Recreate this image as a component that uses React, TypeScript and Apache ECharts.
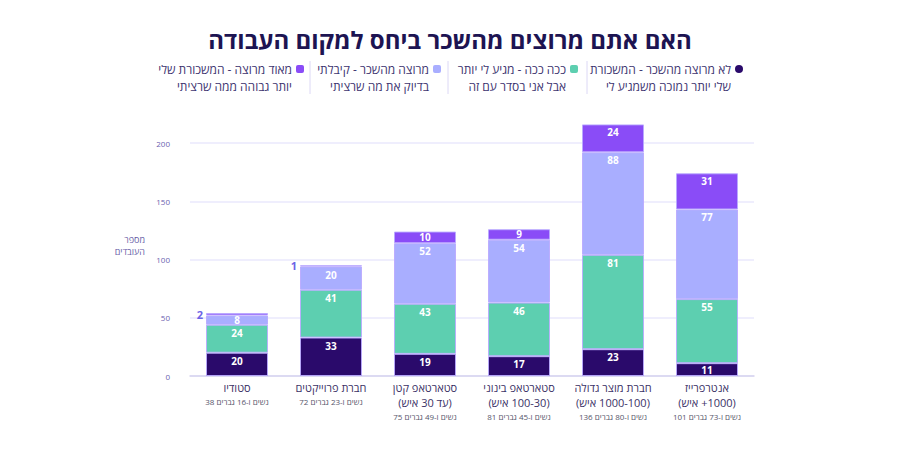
import React, { useEffect, useRef } from "react";
import * as echarts from "echarts";

const categories = ["סטודיו", "חברת פרוייקטים", "סטארטאפ קטן", "סטארטאפ בינוני", "חברת מוצר גדולה", "אנטרפרייז"];
const sizeNotes = ["", "", "(עד 30 איש)", "(100-30 איש)", "(1000-100 איש)", "(1000+ איש)"];
const headcounts = [
  "38 נשים ו-16 גברים",
  "72 נשים ו-23 גברים",
  "75 נשים ו-49 גברים",
  "81 נשים ו-45 גברים",
  "136 נשים ו-80 גברים",
  "101 נשים ו-73 גברים",
];
const notSatisfied = [20, 33, 19, 17, 23, 11];
const soSo = [24, 41, 43, 46, 81, 55];
const satisfied = [8, 20, 52, 54, 88, 77];
const verySatisfied = [2, 1, 10, 9, 24, 31];
const yTicks = [0, 50, 100, 150, 200];

const seriesNames = [
  "לא מרוצה מהשכר - המשכורת\nשלי יותר נמוכה משמגיע לי",
  "ככה ככה - מגיע לי יותר\nאבל אני בסדר עם זה",
  "מרוצה מהשכר - קיבלתי\nבדיוק את מה שרציתי",
  "מאוד מרוצה - המשכורת שלי\nיותר גבוהה ממה שרציתי",
];
const colors = ["#2a0a6b", "#5dcfb0", "#a9aeff", "#8a4cf7"];
const title = "האם אתם מרוצים מהשכר ביחס למקום העבודה";
const yName = "מספר\nהעובדים";

const FONT = "'Open Sans', 'Liberation Sans', 'DejaVu Sans', sans-serif";
const RLE = "\u202B";
const LRE = "\u202A";
const PDF = "\u202C";

export default function App() {
  const ref = useRef<HTMLDivElement>(null);
  useEffect(() => {
    if (!ref.current) return;
    const chart = echarts.init(ref.current, null, { renderer: "svg" });
    const allSeries = [notSatisfied, soSo, satisfied, verySatisfied];
    const series = allSeries.map((vals, si) => ({
      name: seriesNames[si],
      type: "bar",
      stack: "total",
      barWidth: 62,
      itemStyle: { color: colors[si], borderColor: "rgba(185,170,255,0.9)", borderWidth: 1 },
      label: {
        show: true,
        position: "insideTop",
        distance: 3,
        color: "#ffffff",
        fontSize: 10,
        fontWeight: "bold",
        fontFamily: FONT,
      },
      data: vals.map((v) =>
        v < 5
          ? {
              value: v,
              label: { position: "left", distance: 3, color: "#6c63e6", fontSize: 11, fontWeight: "bold" },
            }
          : v <= 11
          ? { value: v, label: { position: "inside" } }
          : v
      ),
    }));

    const legendRight = [731, 566, 429, 292];
    const sepX = [587, 448, 310];
    const graphic: any[] = [];
    legendRight.forEach((xr, i) => {
      graphic.push({
        type: "rect",
        shape: { x: xr + 4, y: 65, width: 8, height: 8, r: i === 0 ? 4 : 2 },
        style: { fill: colors[i] },
      });
      graphic.push({
        type: "text",
        x: xr,
        y: 61,
        style: {
          text: seriesNames[i],
          textAlign: "right",
          textVerticalAlign: "top",
          fontSize: 12,
          lineHeight: 17,
          fill: "#3d3470",
          fontFamily: FONT,
        },
      });
    });
    sepX.forEach((x) => {
      graphic.push({
        type: "line",
        shape: { x1: x, y1: 61, x2: x, y2: 94 },
        style: { stroke: "#dcd8f5", lineWidth: 1 },
      });
    });
    graphic.push({
      type: "text",
      x: 145,
      y: 233,
      style: {
        text: yName,
        textAlign: "right",
        textVerticalAlign: "top",
        fontSize: 9,
        lineHeight: 12,
        fill: "#6a5fa8",
        fontFamily: FONT,
      },
    });

    chart.setOption({
      animation: false,
      textStyle: { fontFamily: FONT },
      title: {
        text: title,
        left: "center",
        top: 22,
        textStyle: { fontSize: 24, fontWeight: "bold", color: "#1d1452", fontFamily: FONT },
      },
      grid: { left: 190, right: 146, top: 124.4, bottom: 74 },
      xAxis: {
        type: "category",
        data: categories,
        axisTick: { show: false },
        axisLine: { lineStyle: { color: "#d6d3ee", width: 1.5 } },
        axisLabel: {
          interval: 0,
          margin: 4,
          formatter: (v: string, idx: number) => {
            const note = sizeNotes[idx];
            const count = `{c|${LRE}${headcounts[idx]}${PDF}}`;
            return note ? `{n|${v}}\n{n|${RLE}${note}${PDF}}\n${count}` : `{n|${v}}\n${count}`;
          },
          rich: {
            n: { fontSize: 11, color: "#3b3266", lineHeight: 15, fontFamily: FONT },
            c: { fontSize: 8, color: "#55556a", lineHeight: 13, fontFamily: FONT },
          },
        },
      },
      yAxis: {
        type: "value",
        min: yTicks[0],
        max: 216,
        interval: 50,
        axisLine: { show: false },
        axisTick: { show: false },
        axisLabel: { fontSize: 8, color: "#6b5fb0", margin: 20, showMaxLabel: false, fontFamily: FONT },
        splitLine: { showMaxLine: false, lineStyle: { color: "#eae8fc", width: 1.5 } },
      },
      series,
      graphic,
    });
    return () => chart.dispose();
  }, []);
  return <div ref={ref} style={{ width: 900, height: 450, position: "absolute", left: 0, top: 0 }} />;
}
